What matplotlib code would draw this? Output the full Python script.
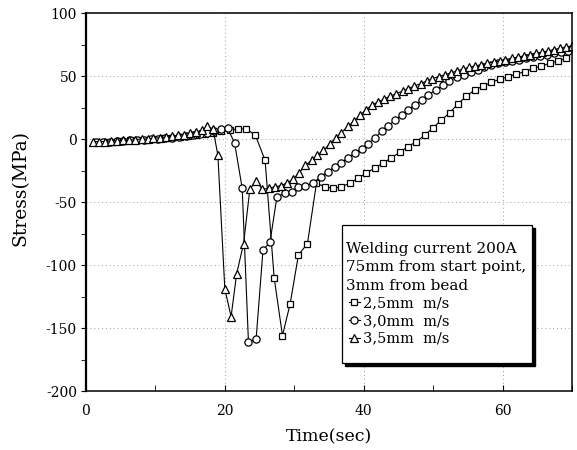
import matplotlib
matplotlib.use("Agg")
import matplotlib.pyplot as plt
from matplotlib.patches import Rectangle
from matplotlib.ticker import MultipleLocator

plt.rcParams['font.family'] = ['DejaVu Serif']
plt.rcParams['axes.unicode_minus'] = False

# 2.5 mm/s (squares)
t_sq = [1.5, 2.7, 3.9, 5.1, 6.3, 7.5, 8.7, 9.9, 11.1, 12.3,
        13.5, 14.7, 15.9, 17.1, 18.3, 19.5, 20.7, 21.9, 23.1, 24.4,
        25.8, 27.1, 28.3, 29.4, 30.6, 31.9, 33.2, 34.4, 35.6, 36.8,
        38.0, 39.2, 40.4, 41.6, 42.8, 44.0, 45.2, 46.4, 47.6, 48.8,
        50.0, 51.2, 52.4, 53.6, 54.8, 56.0, 57.2, 58.4, 59.6, 60.8,
        62.0, 63.2, 64.4, 65.6, 66.8, 68.0, 69.2]
s_sq = [-2, -2, -2, -1.5, -1, -1, -0.5, 0, 0.5, 1,
        1.5, 2.5, 3, 4, 5, 6, 7, 8, 8, 3,
        -17, -110, -156, -131, -92, -83, -35, -38, -39, -38,
        -35, -31, -27, -23, -19, -15, -10.5, -6, -2, 3,
        9, 15, 21, 28, 34, 39, 42, 45, 47.5, 49.5,
        51.5, 53.5, 56, 58, 60, 62, 64]

# 3.0 mm/s (circles)
t_ci = [1.4, 2.4, 3.4, 4.4, 5.4, 6.4, 7.4, 8.4, 9.4, 10.4,
        11.4, 12.4, 13.4, 14.4, 15.4, 16.4, 17.4, 18.4, 19.4, 20.4,
        21.4, 22.5, 23.4, 24.5, 25.5, 26.5, 27.5, 28.6, 29.7, 30.6,
        31.6, 32.7, 33.8, 34.8, 35.8, 36.8, 37.7, 38.7, 39.7, 40.6,
        41.6, 42.6, 43.5, 44.5, 45.5, 46.4, 47.4, 48.4, 49.3, 50.4,
        51.4, 52.3, 53.4, 54.4, 55.4, 56.4, 57.4, 58.4, 59.4, 60.4,
        61.4, 62.4, 63.4, 64.4, 65.4, 66.4, 67.4, 68.4, 69.4]
s_ci = [-2, -2, -2, -1.5, -1.5, -1, -1, -0.5, 0, 0,
        0.5, 1, 1.5, 2, 3, 4, 5, 6.5, 8, 8.5,
        -3, -39, -161, -159, -88, -82, -46, -43, -42, -38,
        -37, -35, -30, -26, -22, -19, -15, -11, -8, -4,
        1, 6, 10, 15, 19, 23, 27, 31, 35, 39,
        42.5, 46, 49, 51, 53, 55, 57, 58.5, 60, 61,
        62, 63, 64, 65, 66, 67, 68, 69, 70]

# 3.5 mm/s (triangles)
t_tr = [1.0, 1.9, 2.7, 3.6, 4.5, 5.4, 6.2, 7.1, 8.0, 8.9,
        9.7, 10.6, 11.5, 12.4, 13.2, 14.1, 15.0, 15.9, 16.7, 17.5,
        18.3, 19.0, 20.0, 20.9, 21.7, 22.7, 23.6, 24.5, 25.4, 26.3,
        27.2, 28.1, 28.9, 29.8, 30.7, 31.6, 32.5, 33.3, 34.2, 35.1,
        36.0, 36.8, 37.7, 38.6, 39.5, 40.3, 41.2, 42.1, 42.9, 43.8,
        44.7, 45.6, 46.4, 47.3, 48.2, 49.1, 49.9, 50.8, 51.7, 52.6,
        53.4, 54.3, 55.2, 56.1, 56.9, 57.8, 58.7, 59.6, 60.4, 61.3,
        62.2, 63.1, 63.9, 64.8, 65.7, 66.6, 67.4, 68.3, 69.2, 70.0]
s_tr = [-2, -2, -2, -1.5, -1.5, -1, -1, -0.5, 0, 0,
        0.5, 1, 1.5, 2, 3, 3.5, 4.5, 5.5, 7, 10,
        8, -13, -119, -141, -107, -83, -40, -33, -40, -39,
        -38, -37, -35, -32, -27, -21, -17, -13, -9, -4,
        1, 5, 10, 14, 19, 23, 27, 29.5, 31.5, 34,
        36, 38, 40, 42, 44, 46, 48, 49.5, 51, 52.5,
        54, 55.5, 57, 58, 59, 60, 61, 62, 63, 64,
        65, 66, 67, 68, 69, 70, 71, 72, 73, 74]

labels = ["2,5mm  m/s", "3,0mm  m/s", "3,5mm  m/s"]
legend_title = "Welding current 200A\n75mm from start point,\n3mm from bead"

fig = plt.figure(figsize=(5.77, 4.5), dpi=100)
ax = fig.add_axes([0.149, 0.1311, 0.8423, 0.84])

ax.plot(t_sq, s_sq, color='black', lw=0.8, marker='s', ms=4.6, mfc='white', mec='black', mew=0.9, label=labels[0])
ax.plot(t_ci, s_ci, color='black', lw=0.8, marker='o', ms=5.2, mfc='white', mec='black', mew=0.9, label=labels[1])
ax.plot(t_tr, s_tr, color='black', lw=0.8, marker='^', ms=5.6, mfc='white', mec='black', mew=0.9, label=labels[2])

ax.set_xlim(0, 70)
ax.set_ylim(-200, 100)
ax.xaxis.set_major_locator(MultipleLocator(20))
ax.xaxis.set_minor_locator(MultipleLocator(10))
ax.yaxis.set_major_locator(MultipleLocator(50))
ax.yaxis.set_minor_locator(MultipleLocator(25))
ax.tick_params(axis='x', which='both', direction='in', length=4, labelsize=10, pad=9)
ax.tick_params(axis='y', which='both', direction='out', length=3.5, labelsize=10, pad=3)
ax.grid(True, which='major', color='0.6', lw=0.7, linestyle=(0, (1, 3)))

for sp in ax.spines.values():
    sp.set_linewidth(1.1)
ax.spines['left'].set_linewidth(1.6)

ax.set_xlabel("Time(sec)", fontsize=12.5)
ax.xaxis.set_label_coords(0.5, -0.1)
ax.set_ylabel("Stress(MPa)", fontsize=13.5)
ax.yaxis.set_label_coords(-0.117, 0.537)

# legend box with a hard black shadow
box = (0.5267, 0.0741, 0.391, 0.3651)
ax.add_patch(Rectangle((box[0] + 0.0065, box[1] - 0.0085), box[2], box[3], transform=ax.transAxes,
                       facecolor='black', edgecolor='black', zorder=5))
ax.add_patch(Rectangle((box[0], box[1]), box[2], box[3], transform=ax.transAxes,
                       facecolor='white', edgecolor='black', lw=0.9, zorder=6))
ax.text(0.535, 0.3945, legend_title, transform=ax.transAxes, ha='left', va='top',
        fontsize=11, linespacing=1.4, zorder=7)

leg = ax.legend(loc='upper left', bbox_to_anchor=(0.541, 0.25), fontsize=10.5,
                frameon=False, handlelength=0.75, handletextpad=0.25,
                labelspacing=0.25, borderpad=0, borderaxespad=0)
leg.set_zorder(8)

fig.savefig("out.png", dpi=100)
